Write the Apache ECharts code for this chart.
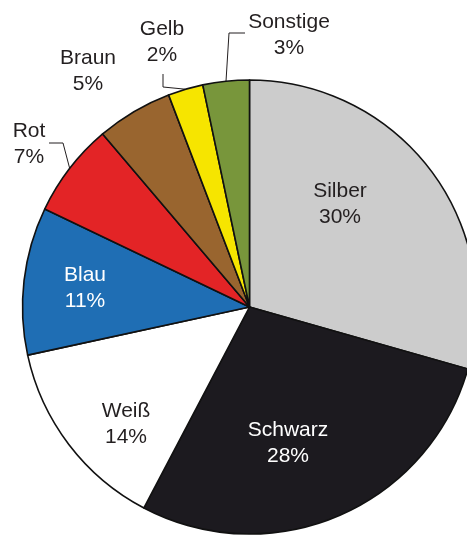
<!DOCTYPE html>
<html><head><meta charset="utf-8">
<script src="https://cdn.jsdelivr.net/npm/echarts@6/dist/echarts.min.js"></script>
<style>html,body{margin:0;padding:0;background:#fff;overflow:hidden}#c{width:467px;height:537px}</style>
</head><body><div id="c"></div>
<script>
// Data
const categories = ['Silber', 'Schwarz', 'Weiß', 'Blau', 'Rot', 'Braun', 'Gelb', 'Sonstige'];
const shares = [29.4, 28.3, 13.9, 10.5, 6.7, 5.4, 2.5, 3.3];
const percentLabels = ['30%', '28%', '14%', '11%', '7%', '5%', '2%', '3%'];

// Styles / layout
const colors = ['#cccccc', '#1c1a1f', '#ffffff', '#1f6eb4', '#e32426', '#99652f', '#f6e500', '#78963b'];
const textColors = ['#231f20', '#ffffff', '#231f20', '#ffffff', '#231f20', '#231f20', '#231f20', '#231f20'];
const labelPos = {
  'Silber': [340, 204], 'Schwarz': [288, 443], 'Weiß': [126, 424], 'Blau': [85, 288],
  'Rot': [29, 144], 'Braun': [88, 71], 'Gelb': [162, 42], 'Sonstige': [289, 35]
};
const leaderTurns = {
  'Rot': [[63, 143], [49, 143]],
  'Gelb': [[163, 87], [163, 74]],
  'Sonstige': [[229, 33], [245, 33]]
};

const chart = echarts.init(document.getElementById('c'), null, { renderer: 'canvas' });
chart.setOption({
  animation: false,
  backgroundColor: '#ffffff',
  series: [{
    type: 'pie',
    center: [249.5, 307],
    radius: 227,
    startAngle: 90,
    clockwise: true,
    avoidLabelOverlap: false,
    silent: true,
    itemStyle: { borderColor: '#111111', borderWidth: 1.6 },
    label: {
      show: true,
      position: 'outside',
      fontFamily: '"Liberation Sans", Arial, sans-serif',
      fontSize: 21,
      lineHeight: 26,
      align: 'center',
      formatter: p => categories[p.dataIndex] + '\n' + percentLabels[p.dataIndex]
    },
    labelLine: { show: false, lineStyle: { color: '#231f20', width: 1 } },
    labelLayout: function (params) {
      const name = categories[params.dataIndex];
      const p = labelPos[name];
      const out = { x: p[0], y: p[1], align: 'center', verticalAlign: 'middle' };
      if (leaderTurns[name] && params.labelLinePoints) {
        out.labelLinePoints = [params.labelLinePoints[0]].concat(leaderTurns[name]);
      }
      return out;
    },
    data: categories.map((c, i) => ({
      name: c,
      value: shares[i],
      itemStyle: { color: colors[i] },
      label: { color: textColors[i] },
      labelLine: { show: !!leaderTurns[c] }
    }))
  }]
});
</script>
</body></html>
